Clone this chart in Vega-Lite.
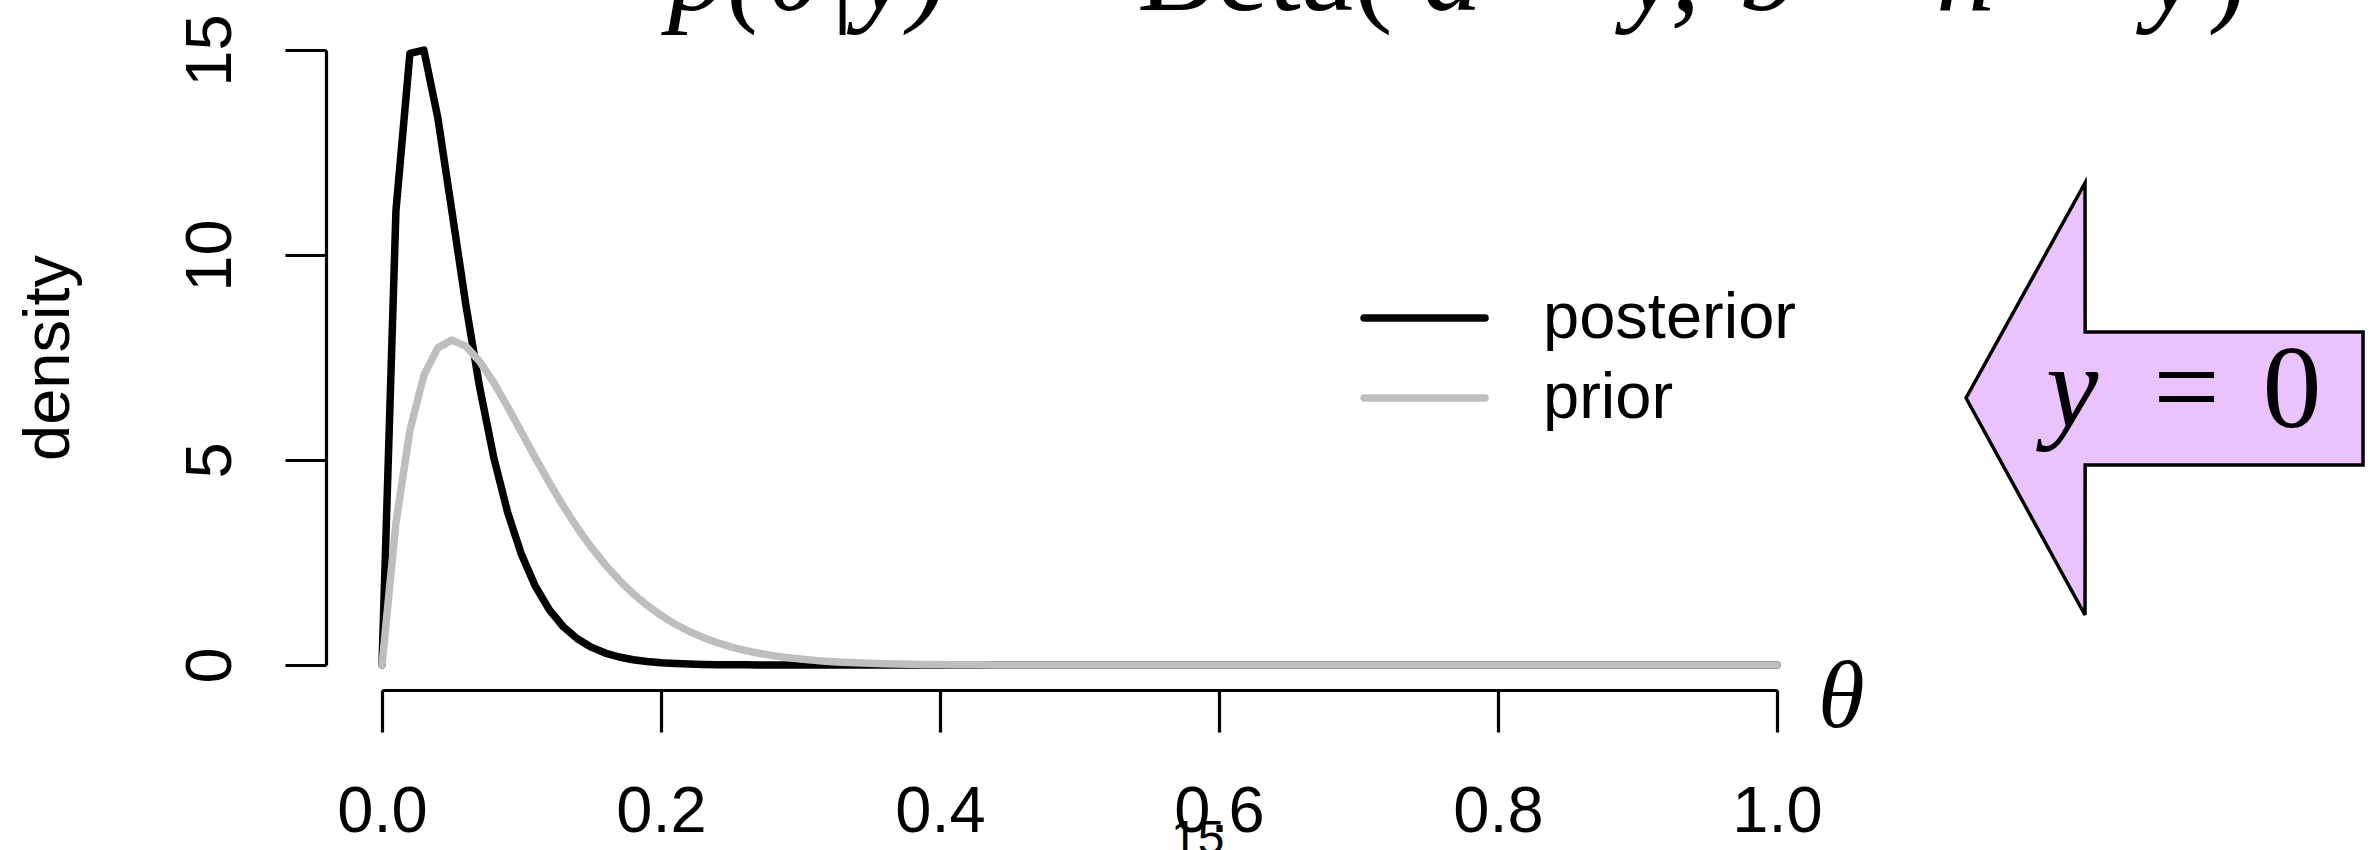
{
  "$schema": "https://vega.github.io/schema/vega-lite/v6.json",
  "width": 1395,
  "height": 615,
  "autosize": {"type": "none"},
  "padding": {"left": 382, "top": 50, "right": 599, "bottom": 185},
  "background": "white",
  "config": {"view": {"stroke": null}, "axis": {"grid": false}},
  "datasets": {
    "curves": [
      {"t":0,"post":0,"prior":0},{"t":0.01,"post":11.082,"prior":3.47},{"t":0.02,"post":14.917,"prior":5.722},{"t":0.03,"post":14.999,"prior":7.064},{"t":0.04,"post":13.35,"prior":7.735},{"t":0.05,"post":11.093,"prior":7.924},{"t":0.06,"post":8.81,"prior":7.777},{"t":0.07,"post":6.773,"prior":7.406},{"t":0.08,"post":5.078,"prior":6.892},{"t":0.09,"post":3.73,"prior":6.299},
      {"t":0.1,"post":2.694,"prior":5.674},{"t":0.11,"post":1.916,"prior":5.047},{"t":0.12,"post":1.345,"prior":4.442},{"t":0.13,"post":0.933,"prior":3.873},{"t":0.14,"post":0.64,"prior":3.348},{"t":0.15,"post":0.435,"prior":2.873},{"t":0.16,"post":0.292,"prior":2.447},{"t":0.17,"post":0.195,"prior":2.071},{"t":0.18,"post":0.128,"prior":1.742},{"t":0.19,"post":0.084,"prior":1.456},
      {"t":0.2,"post":0.054,"prior":1.211},{"t":0.21,"post":0.035,"prior":1.001},{"t":0.22,"post":0.022,"prior":0.823},{"t":0.23,"post":0.014,"prior":0.673},{"t":0.24,"post":0.009,"prior":0.548},{"t":0.25,"post":0.0055,"prior":0.444},{"t":0.26,"post":0.0034,"prior":0.358},{"t":0.27,"post":0.0021,"prior":0.287},{"t":0.28,"post":0.0013,"prior":0.229},{"t":0.29,"post":0.0008,"prior":0.182},
      {"t":0.3,"post":0.0005,"prior":0.144},{"t":0.31,"post":0,"prior":0.113},{"t":0.32,"post":0,"prior":0.088},{"t":0.33,"post":0,"prior":0.069},{"t":0.34,"post":0,"prior":0.053},{"t":0.35,"post":0,"prior":0.041},{"t":0.36,"post":0,"prior":0.031},{"t":0.37,"post":0,"prior":0.024},{"t":0.38,"post":0,"prior":0.018},{"t":0.39,"post":0,"prior":0.014},
      {"t":0.4,"post":0,"prior":0.01},{"t":0.41,"post":0,"prior":0.008},{"t":0.42,"post":0,"prior":0.006},{"t":0.43,"post":0,"prior":0.004},{"t":0.44,"post":0,"prior":0.003},{"t":0.45,"post":0,"prior":0.002},{"t":0.46,"post":0,"prior":0.002},{"t":0.47,"post":0,"prior":0.001},{"t":0.48,"post":0,"prior":0.001},{"t":0.49,"post":0,"prior":0.001},
      {"t":0.5,"post":0,"prior":0},{"t":0.51,"post":0,"prior":0},{"t":0.52,"post":0,"prior":0},{"t":0.53,"post":0,"prior":0},{"t":0.54,"post":0,"prior":0},{"t":0.55,"post":0,"prior":0},{"t":0.56,"post":0,"prior":0},{"t":0.57,"post":0,"prior":0},{"t":0.58,"post":0,"prior":0},{"t":0.59,"post":0,"prior":0},
      {"t":0.6,"post":0,"prior":0},{"t":0.61,"post":0,"prior":0},{"t":0.62,"post":0,"prior":0},{"t":0.63,"post":0,"prior":0},{"t":0.64,"post":0,"prior":0},{"t":0.65,"post":0,"prior":0},{"t":0.66,"post":0,"prior":0},{"t":0.67,"post":0,"prior":0},{"t":0.68,"post":0,"prior":0},{"t":0.69,"post":0,"prior":0},
      {"t":0.7,"post":0,"prior":0},{"t":0.71,"post":0,"prior":0},{"t":0.72,"post":0,"prior":0},{"t":0.73,"post":0,"prior":0},{"t":0.74,"post":0,"prior":0},{"t":0.75,"post":0,"prior":0},{"t":0.76,"post":0,"prior":0},{"t":0.77,"post":0,"prior":0},{"t":0.78,"post":0,"prior":0},{"t":0.79,"post":0,"prior":0},
      {"t":0.8,"post":0,"prior":0},{"t":0.81,"post":0,"prior":0},{"t":0.82,"post":0,"prior":0},{"t":0.83,"post":0,"prior":0},{"t":0.84,"post":0,"prior":0},{"t":0.85,"post":0,"prior":0},{"t":0.86,"post":0,"prior":0},{"t":0.87,"post":0,"prior":0},{"t":0.88,"post":0,"prior":0},{"t":0.89,"post":0,"prior":0},
      {"t":0.9,"post":0,"prior":0},{"t":0.91,"post":0,"prior":0},{"t":0.92,"post":0,"prior":0},{"t":0.93,"post":0,"prior":0},{"t":0.94,"post":0,"prior":0},{"t":0.95,"post":0,"prior":0},{"t":0.96,"post":0,"prior":0},{"t":0.97,"post":0,"prior":0},{"t":0.98,"post":0,"prior":0},{"t":0.99,"post":0,"prior":0},
      {"t":1,"post":0,"prior":0}
    ],
    "legline": [
      {"x1":0.704,"x2":0.7907,"ly":8.463,"s":"posterior"},
      {"x1":0.704,"x2":0.7907,"ly":6.512,"s":"prior"}
    ],
    "arrow": [
      {"ax":1.1355,"lo":6.512,"hi":6.512},
      {"ax":1.2208,"lo":1.22,"hi":11.756},
      {"ax":1.2209,"lo":4.878,"hi":8.122},
      {"ax":1.4201,"lo":4.878,"hi":8.122}
    ],
    "texts": [
      {"txt":"p(θ|y)","tx":0.205,"ty":15.976,"g":"il"},
      {"txt":"=","tx":0.4745,"ty":15.976,"g":"rc"},
      {"txt":"Beta(","tx":0.5412,"ty":15.976,"g":"rl"},
      {"txt":"a","tx":0.7462,"ty":15.976,"g":"il"},
      {"txt":"+","tx":0.8351,"ty":15.976,"g":"rc"},
      {"txt":"y,","tx":0.891,"ty":15.976,"g":"il"},
      {"txt":"b","tx":0.9728,"ty":15.976,"g":"il"},
      {"txt":"+","tx":1.0552,"ty":15.976,"g":"rc"},
      {"txt":"n","tx":1.114,"ty":15.976,"g":"il"},
      {"txt":"−","tx":1.2079,"ty":15.976,"g":"rc"},
      {"txt":"y","tx":1.2645,"ty":15.976,"g":"il"},
      {"txt":")","tx":1.3082,"ty":15.976,"g":"rl"},
      {"txt":"y","tx":1.1928,"ty":5.805,"g":"il"},
      {"txt":"=","tx":1.2935,"ty":5.805,"g":"rc"},
      {"txt":"0","tx":1.3692,"ty":5.805,"g":"rc"},
      {"txt":"θ","tx":1.0294,"ty":-1.51,"g":"th"},
      {"txt":"posterior","tx":0.8323,"ty":8.463,"g":"lg"},
      {"txt":"prior","tx":0.8323,"ty":6.512,"g":"lg"},
      {"txt":"15","tx":0.5656,"ty":-4.61,"g":"gl"}
    ]
  },
  "layer": [
    {
      "data": {"name": "curves"},
      "mark": {"type": "line", "color": "black", "strokeWidth": 7.5, "strokeCap": "round", "strokeJoin": "round"},
      "encoding": {
        "x": {"field": "t", "type": "quantitative", "scale": {"domain": [0, 1], "nice": false, "zero": false},
          "axis": {"values": [0, 0.2, 0.4, 0.6, 0.8, 1], "format": ".1f", "offset": 25, "title": null,
            "domainColor": "black", "domainWidth": 3.2, "tickColor": "black", "tickWidth": 3.2, "tickSize": 42,
            "labelFont": "Liberation Sans", "labelFontSize": 65, "labelColor": "black", "labelBaseline": "alphabetic",
            "labelPadding": 99, "labelFlush": false, "labelOverlap": false}},
        "y": {"field": "post", "type": "quantitative", "scale": {"domain": [0, 15], "nice": false, "zero": false},
          "axis": {"values": [0, 5, 10, 15], "offset": 56, "title": "density",
            "domainColor": "black", "domainWidth": 3.2, "tickColor": "black", "tickWidth": 3.2, "tickSize": 41,
            "labelFont": "Liberation Sans", "labelFontSize": 65, "labelColor": "black", "labelAngle": 270,
            "labelAlign": "center", "labelBaseline": "alphabetic", "labelPadding": 55, "labelFlush": false, "labelOverlap": false,
            "titleFont": "Liberation Sans", "titleFontSize": 65, "titleFontWeight": "normal", "titleColor": "black",
            "titleAngle": 270, "titleAlign": "center", "titleBaseline": "alphabetic", "titleX": -258, "titleY": 307.5}}
      }
    },
    {
      "data": {"name": "curves"},
      "mark": {"type": "line", "color": "#bebebe", "strokeWidth": 7.5, "strokeCap": "round", "strokeJoin": "round"},
      "encoding": {
        "x": {"field": "t", "type": "quantitative"},
        "y": {"field": "prior", "type": "quantitative"}
      }
    },
    {
      "data": {"name": "legline"},
      "mark": {"type": "rule", "strokeWidth": 7.5, "strokeCap": "round"},
      "encoding": {
        "x": {"field": "x1", "type": "quantitative"},
        "x2": {"field": "x2"},
        "y": {"field": "ly", "type": "quantitative"},
        "color": {"field": "s", "type": "nominal", "scale": {"domain": ["posterior", "prior"], "range": ["black", "#bebebe"]}, "legend": null}
      }
    },
    {
      "data": {"name": "arrow"},
      "mark": {"type": "area", "fill": "#eac2fe", "stroke": "black", "strokeWidth": 3.5, "strokeJoin": "miter", "opacity": 1, "fillOpacity": 1, "interpolate": "linear", "orient": "vertical"},
      "encoding": {
        "x": {"field": "ax", "type": "quantitative"},
        "y": {"field": "lo", "type": "quantitative"},
        "y2": {"field": "hi"}
      }
    },
    {
      "data": {"name": "texts"},
      "transform": [{"filter": "datum.g === 'il'"}],
      "mark": {"type": "text", "font": "Liberation Serif", "fontStyle": "italic", "fontSize": 118, "align": "left", "baseline": "alphabetic", "color": "black"},
      "encoding": {
        "x": {"field": "tx", "type": "quantitative"},
        "y": {"field": "ty", "type": "quantitative"},
        "text": {"field": "txt"}
      }
    },
    {
      "data": {"name": "texts"},
      "transform": [{"filter": "datum.g === 'rl'"}],
      "mark": {"type": "text", "font": "Liberation Serif", "fontSize": 118, "align": "left", "baseline": "alphabetic", "color": "black"},
      "encoding": {
        "x": {"field": "tx", "type": "quantitative"},
        "y": {"field": "ty", "type": "quantitative"},
        "text": {"field": "txt"}
      }
    },
    {
      "data": {"name": "texts"},
      "transform": [{"filter": "datum.g === 'rc'"}],
      "mark": {"type": "text", "font": "Liberation Serif", "fontSize": 118, "align": "center", "baseline": "alphabetic", "color": "black"},
      "encoding": {
        "x": {"field": "tx", "type": "quantitative"},
        "y": {"field": "ty", "type": "quantitative"},
        "text": {"field": "txt"}
      }
    },
    {
      "data": {"name": "texts"},
      "transform": [{"filter": "datum.g === 'th'"}],
      "mark": {"type": "text", "font": "Liberation Serif", "fontStyle": "italic", "fontSize": 95, "align": "left", "baseline": "alphabetic", "color": "black"},
      "encoding": {
        "x": {"field": "tx", "type": "quantitative"},
        "y": {"field": "ty", "type": "quantitative"},
        "text": {"field": "txt"}
      }
    },
    {
      "data": {"name": "texts"},
      "transform": [{"filter": "datum.g === 'lg'"}],
      "mark": {"type": "text", "font": "Liberation Sans", "fontSize": 65, "align": "left", "baseline": "middle", "color": "black"},
      "encoding": {
        "x": {"field": "tx", "type": "quantitative"},
        "y": {"field": "ty", "type": "quantitative"},
        "text": {"field": "txt"}
      }
    },
    {
      "data": {"name": "texts"},
      "transform": [{"filter": "datum.g === 'gl'"}],
      "mark": {"type": "text", "font": "Liberation Sans", "fontSize": 48, "align": "left", "baseline": "alphabetic", "color": "black"},
      "encoding": {
        "x": {"field": "tx", "type": "quantitative"},
        "y": {"field": "ty", "type": "quantitative"},
        "text": {"field": "txt"}
      }
    }
  ]
}
